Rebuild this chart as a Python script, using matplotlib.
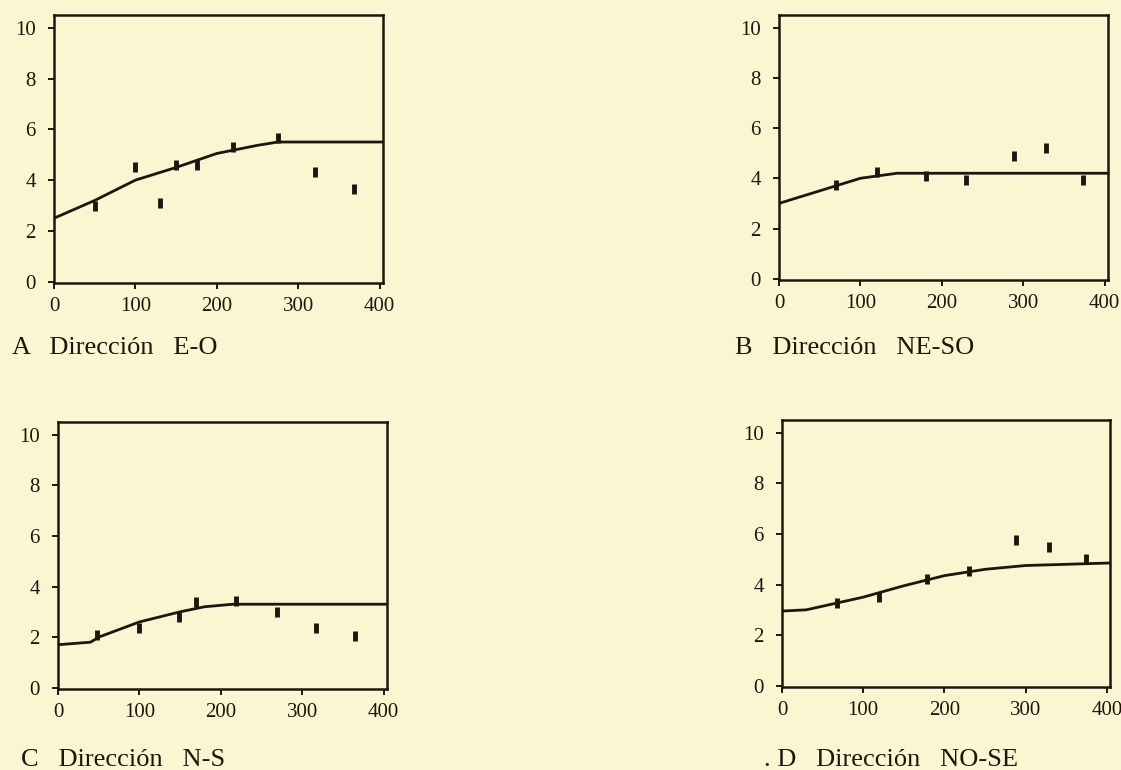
import matplotlib.pyplot as plt

plt.rcParams['font.family'] = ['Liberation Serif', 'DejaVu Serif']

bg = '#FCF5D2'
ink = '#1e160e'

a_x = [50, 100, 130, 150, 175, 220, 275, 320, 368]
a_y = [3.0, 4.5, 3.1, 4.6, 4.6, 5.3, 5.65, 4.3, 3.65]
b_x = [70, 120, 180, 230, 288, 328, 373]
b_y = [3.75, 4.25, 4.1, 3.95, 4.9, 5.2, 3.95]
c_x = [48, 100, 148, 170, 219, 269, 317, 365]
c_y = [2.08, 2.36, 2.8, 3.4, 3.44, 3.0, 2.36, 2.04]
d_x = [68, 119, 179, 230, 288, 329, 374]
d_y = [3.25, 3.5, 4.2, 4.55, 5.75, 5.5, 5.0]

# fitted model lines, read at a few lags
a_mx = [0, 50, 100, 150, 200, 250, 275, 404]
a_my = [2.5, 3.2, 4.0, 4.5, 5.05, 5.37, 5.5, 5.5]
b_mx = [0, 50, 100, 145, 404]
b_my = [3.0, 3.5, 4.0, 4.2, 4.2]
c_mx = [0, 40, 50, 100, 150, 180, 215, 404]
c_my = [1.7, 1.8, 2.0, 2.6, 3.0, 3.2, 3.3, 3.3]
d_mx = [0, 30, 100, 150, 200, 250, 300, 404]
d_my = [2.95, 3.0, 3.5, 3.95, 4.35, 4.6, 4.75, 4.85]

captions = ['A   Dirección   E-O', 'B   Dirección   NE-SO', 'C   Dirección   N-S', '. D   Dirección   NO-SE']

W, H = 1121, 770
fig = plt.figure(figsize=(W / 100, H / 100), dpi=100)
fig.patch.set_facecolor(bg)

# pixel boxes: left, right, top, bottom
boxes = [(54, 383, 15, 283), (779, 1108, 15, 280), (58, 387, 422, 689), (782, 1110, 420, 687)]
caption_pos = [(12, 348), (735, 348), (21, 760), (764, 760)]
panels = [(a_x, a_y, a_mx, a_my), (b_x, b_y, b_mx, b_my),
          (c_x, c_y, c_mx, c_my), (d_x, d_y, d_mx, d_my)]

for (l, r, t, b), (px, py, mx, my), cap, (cx, cy) in zip(boxes, panels, captions, caption_pos):
    ax = fig.add_axes([l / W, 1 - b / H, (r - l) / W, (b - t) / H])
    ax.set_facecolor(bg)
    ax.plot(mx, my, color=ink, lw=2)
    ax.plot(px, py, linestyle='none', marker='|', markersize=7, markeredgewidth=3.5, color=ink)
    ax.set_xlim(0, 404)
    ax.set_ylim(-0.05, 10.5)
    ax.set_xticks([0, 100, 200, 300, 400])
    ax.set_yticks([0, 2, 4, 6, 8, 10])
    ax.tick_params(direction='out', length=4, width=1.4, labelsize=15, pad=6, colors=ink)
    ax.tick_params(axis='y', pad=9)
    for s in ax.spines.values():
        s.set_linewidth(1.8)
        s.set_color(ink)
    fig.text(cx / W, 1 - cy / H, cap, fontsize=19, va='center', ha='left', color=ink)

fig.savefig('out.png', dpi=100, facecolor=bg)
